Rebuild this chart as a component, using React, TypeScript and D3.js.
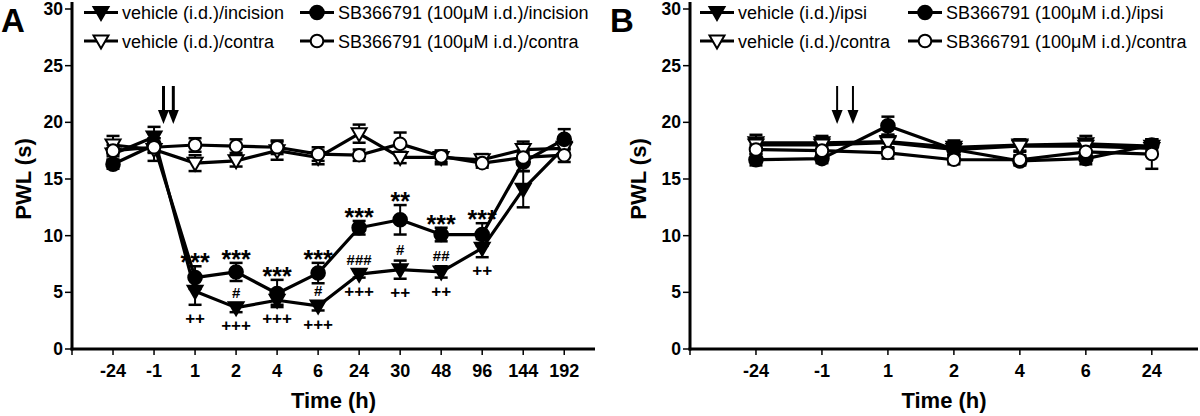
import React from "react";
import * as d3 from "d3";

// ---------- DATA ----------
const catsA = ["-24", "-1", "1", "2", "4", "6", "24", "30", "48", "96", "144", "192"];
const vehIncA = [17.2, 18.7, 5.1, 3.65, 4.3, 3.8, 6.6, 7.0, 6.8, 8.9, 14.1, 17.8];
const vehIncErrA = [0.5, 0.9, 1.2, 0.4, 0.4, 0.4, 0.3, 0.8, 0.5, 0.8, 1.6, 0.6];
const vehConA = [18.0, 17.6, 16.4, 16.6, 17.5, 16.9, 19.0, 16.9, 16.9, 16.7, 17.6, 17.7];
const vehConErrA = [0.8, 1.0, 0.7, 0.5, 0.8, 0.6, 0.8, 0.5, 0.6, 0.5, 0.7, 0.6];
const sbIncA = [16.3, 18.0, 6.3, 6.8, 4.9, 6.7, 10.7, 11.4, 10.1, 10.1, 16.5, 18.5];
const sbIncErrA = [0.4, 0.6, 1.0, 0.8, 1.2, 0.9, 0.6, 1.3, 0.6, 1.0, 0.8, 0.9];
const sbConA = [17.5, 17.8, 18.0, 17.9, 17.8, 17.2, 17.1, 18.1, 17.0, 16.4, 16.9, 17.1];
const sbConErrA = [0.5, 0.5, 0.6, 0.6, 0.6, 0.6, 0.5, 1.0, 0.5, 0.4, 0.6, 0.6];

const starCats = ["1", "2", "4", "6", "24", "30", "48", "96"];
const starLabels = ["***", "***", "***", "***", "***", "**", "***", "***"];
const hashCats = ["2", "6", "24", "30", "48"];
const hashLabels = ["#", "#", "###", "#", "##"];
const plusCats = ["1", "2", "4", "6", "24", "30", "48", "96"];
const plusLabels = ["++", "+++", "+++", "+++", "+++", "++", "++", "++"];

const catsB = ["-24", "-1", "1", "2", "4", "6", "24"];
const vehIpsiB = [18.2, 18.2, 18.3, 17.8, 18.0, 18.1, 17.9];
const vehIpsiErrB = [0.7, 0.6, 0.6, 0.6, 0.5, 0.7, 0.6];
const vehConB = [18.0, 18.0, 18.2, 17.6, 17.9, 17.9, 17.7];
const vehConErrB = [0.5, 0.5, 0.5, 0.5, 0.5, 0.5, 0.5];
const sbIpsiB = [16.7, 16.8, 19.7, 17.6, 16.6, 16.8, 18.0];
const sbIpsiErrB = [0.5, 0.4, 0.8, 0.5, 0.4, 0.5, 0.5];
const sbConB = [17.6, 17.5, 17.3, 16.7, 16.7, 17.4, 17.2];
const sbConErrB = [0.4, 0.4, 0.5, 0.4, 0.4, 0.5, 1.3];

const legendA = ["vehicle (i.d.)/incision", "vehicle (i.d.)/contra", "SB366791 (100μM i.d.)/incision", "SB366791 (100μM i.d.)/contra"];
const legendB = ["vehicle (i.d.)/ipsi", "vehicle (i.d.)/contra", "SB366791 (100μM i.d.)/ipsi", "SB366791 (100μM i.d.)/contra"];

// arrows: fractional category positions (between -1 and 1)
const arrowPos = [1.23, 1.47];

const yTicks = [0, 5, 10, 15, 20, 25, 30];

// ---------- STYLE ----------
const FONT = "'Liberation Sans', Arial, Helvetica, sans-serif";
const W = 1200;
const H = 416;

type Series = { values: number[]; errs: number[]; shape: "tri" | "circ"; filled: boolean };

function Marker({ shape, filled, x, y }: { shape: string; filled: boolean; x: number; y: number }) {
  const fill = filled ? "#000" : "#fff";
  if (shape === "circ") {
    return <circle cx={x} cy={y} r={filled ? 6.8 : 6.3} fill={fill} stroke="#000" strokeWidth={2} />;
  }
  const pts = [
    [x - 7.5, y - 5.5],
    [x + 7.5, y - 5.5],
    [x, y + 7.5],
  ];
  return <polygon points={pts.map((p) => p.join(",")).join(" ")} fill={fill} stroke="#000" strokeWidth={2} strokeLinejoin="miter" />;
}

const yScale = d3.scaleLinear().domain([0, 30]).range([349, 9]);

function Panel({
  cats,
  series,
  xRange,
  xMax,
  label,
  labelX,
  titleX,
  legend,
  legendCols,
  arrowW,
  children,
}: {
  cats: string[];
  series: Series[];
  xRange: [number, number];
  xMax: number;
  label: string;
  labelX: number;
  titleX: number;
  legend: string[];
  legendCols: number[];
  arrowW: number;
  children?: (x: d3.ScaleLinear<number, number>) => React.ReactNode;
}) {
  const x = d3.scaleLinear().domain([-1, xMax]).range(xRange);
  const y = yScale;
  const x0 = xRange[0];
  const x1 = xRange[1];
  const y0 = y(0);
  const line = d3
    .line<number>()
    .x((_, i) => x(i))
    .y((d) => y(d));
  const legendShapes: [string, boolean][] = [
    ["tri", true],
    ["tri", false],
    ["circ", true],
    ["circ", false],
  ];
  return (
    <g>
      <text x={labelX} y={32} fontFamily={FONT} fontWeight="bold" fontSize={33}>
        {label}
      </text>
      {legend.map((t, i) => {
        const col = Math.floor(i / 2);
        const row = i % 2;
        const lx = legendCols[col];
        const ly = row === 0 ? 12.5 : 41;
        return (
          <g key={t}>
            <line x1={lx} x2={lx + 34} y1={ly} y2={ly} stroke="#000" strokeWidth={3} />
            <Marker shape={legendShapes[i][0]} filled={legendShapes[i][1]} x={lx + 17} y={ly} />
            <text x={lx + 38} y={ly + 6.5} fontFamily={FONT} fontSize={18}>
              {t}
            </text>
          </g>
        );
      })}
      <line x1={x0} x2={x0} y1={y0 + 1.5} y2={2} stroke="#000" strokeWidth={3} />
      <line x1={x0 - 1.5} x2={x1} y1={y0} y2={y0} stroke="#000" strokeWidth={3} />
      {yTicks.map((t) => (
        <g key={t}>
          <line x1={x0 - 7} x2={x0} y1={y(t)} y2={y(t)} stroke="#000" strokeWidth={1.5} />
          <text x={x0 - 9} y={y(t) + 6} textAnchor="end" fontFamily={FONT} fontWeight="bold" fontSize={17.5}>
            {t}
          </text>
        </g>
      ))}
      <line x1={x0} x2={x0} y1={y0} y2={y0 + 6} stroke="#000" strokeWidth={1.5} />
      {cats.map((c, i) => (
        <g key={c}>
          <line x1={x(i)} x2={x(i)} y1={y0} y2={y0 + 6} stroke="#000" strokeWidth={1.5} />
          <text x={x(i)} y={y0 + 28} textAnchor="middle" fontFamily={FONT} fontWeight="bold" fontSize={18}>
            {c}
          </text>
        </g>
      ))}
      <text x={(x0 + x1) / 2} y={408} textAnchor="middle" fontFamily={FONT} fontWeight="bold" fontSize={22}>
        Time (h)
      </text>
      <text
        transform={`translate(${titleX},${y(15)}) rotate(-90)`}
        textAnchor="middle"
        fontFamily={FONT}
        fontWeight="bold"
        fontSize={22}
      >
        PWL (s)
      </text>
      {arrowPos.map((p, i) => {
        const ax = x(p);
        return (
          <g key={i}>
            <line x1={ax} x2={ax} y1={86} y2={112} stroke="#000" strokeWidth={arrowW} />
            <polygon points={`${ax - 5.5},${110} ${ax + 5.5},${110} ${ax},${124}`} fill="#000" />
          </g>
        );
      })}
      {series.map((s, k) => (
        <path key={"l" + k} d={line(s.values) || ""} fill="none" stroke="#000" strokeWidth={3.2} strokeLinejoin="round" />
      ))}
      {series.map((s, k) =>
        s.values.map((v, i) => {
          const cx = x(i);
          const top = y(v + s.errs[i]);
          const bot = y(v - s.errs[i]);
          return (
            <g key={"e" + k + "-" + i}>
              <line x1={cx} x2={cx} y1={top} y2={bot} stroke="#000" strokeWidth={2} />
              <line x1={cx - 6.5} x2={cx + 6.5} y1={top} y2={top} stroke="#000" strokeWidth={2.5} />
              <line x1={cx - 6.5} x2={cx + 6.5} y1={bot} y2={bot} stroke="#000" strokeWidth={2.5} />
            </g>
          );
        })
      )}
      {series.map((s, k) =>
        s.values.map((v, i) => <Marker key={"m" + k + "-" + i} shape={s.shape} filled={s.filled} x={x(i)} y={y(v)} />)
      )}
      {children && children(x)}
    </g>
  );
}

export default function App() {
  const seriesA: Series[] = [
    { values: vehIncA, errs: vehIncErrA, shape: "tri", filled: true },
    { values: vehConA, errs: vehConErrA, shape: "tri", filled: false },
    { values: sbIncA, errs: sbIncErrA, shape: "circ", filled: true },
    { values: sbConA, errs: sbConErrA, shape: "circ", filled: false },
  ];
  const seriesB: Series[] = [
    { values: vehIpsiB, errs: vehIpsiErrB, shape: "tri", filled: true },
    { values: vehConB, errs: vehConErrB, shape: "tri", filled: false },
    { values: sbIpsiB, errs: sbIpsiErrB, shape: "circ", filled: true },
    { values: sbConB, errs: sbConErrB, shape: "circ", filled: false },
  ];
  const y = yScale;
  return (
    <svg width={W} height={H} style={{ position: "absolute", left: 0, top: 0, background: "#fff" }}>
      <rect width={W} height={H} fill="#fff" />
      <Panel
        cats={catsA}
        series={seriesA}
        xRange={[72, 595]}
        xMax={11.75}
        label="A"
        labelX={1}
        titleX={31}
        legend={legendA}
        legendCols={[84, 300]}
        arrowW={3}
      >
        {(x) => (
          <g fontFamily={FONT} fontWeight="bold">
            {starCats.map((c, j) => {
              const i = catsA.indexOf(c);
              const ty = y(sbIncA[i] + sbIncErrA[i]) - 9;
              return (
                <text key={"s" + j} x={x(i)} y={ty + 14} textAnchor="middle" fontSize={25}>
                  {starLabels[j]}
                </text>
              );
            })}
            {hashCats.map((c, j) => {
              const i = catsA.indexOf(c);
              const ty = y(vehIncA[i] + vehIncErrA[i]) - 11;
              return (
                <text key={"h" + j} x={x(i)} y={ty + 5.5} textAnchor="middle" fontSize={15}>
                  {hashLabels[j]}
                </text>
              );
            })}
            {plusCats.map((c, j) => {
              const i = catsA.indexOf(c);
              const ty = y(vehIncA[i] - vehIncErrA[i]) + 13.5;
              return (
                <text key={"p" + j} x={x(i)} y={ty + 5.6} textAnchor="middle" fontSize={17}>
                  {plusLabels[j]}
                </text>
              );
            })}
          </g>
        )}
      </Panel>
      <Panel
        cats={catsB}
        series={seriesB}
        xRange={[690, 1198]}
        xMax={6.7}
        label="B"
        labelX={610}
        titleX={646}
        legend={legendB}
        legendCols={[700, 908]}
        arrowW={2}
      />
    </svg>
  );
}
